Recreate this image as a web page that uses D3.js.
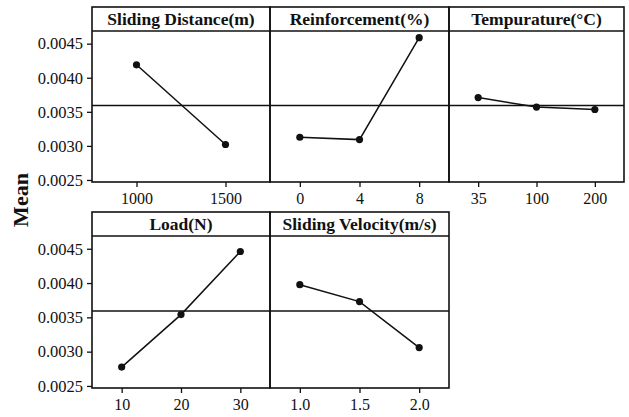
<!DOCTYPE html>
<html><head><meta charset="utf-8">
<script src="https://cdn.jsdelivr.net/npm/d3@7"></script>
<style>body{margin:0;background:#fff}svg{display:block}
svg text{font-family:'Liberation Serif','Times New Roman',serif;}</style>
</head><body>
<svg id="chart" width="629" height="417"></svg>
<script>
const factors = ["Sliding Distance(m)", "Reinforcement(%)", "Tempurature(°C)", "Load(N)", "Sliding Velocity(m/s)"];
const levels = [["1000","1500"],["0","4","8"],["35","100","200"],["10","20","30"],["1.0","1.5","2.0"]];
const means = [
  [0.00419, 0.00302],
  [0.003127, 0.003092, 0.004588],
  [0.003709, 0.003569, 0.003534],
  [0.002775, 0.00354, 0.00446],
  [0.003976, 0.00373, 0.003059]
];
const yTicks = [0.0025, 0.0030, 0.0035, 0.0040, 0.0045];
const grandMean = 0.003593;
const yLabel = "Mean";

const svg = d3.select("#chart");
const colX = [[92,270],[270,449],[449,624]];
const rowY = [{top:7, strip:31, bottom:182},{top:212, strip:236, bottom:388}];
const serif = "Liberation Serif, Times New Roman, serif";
const ink = "#111";

factors.forEach((f, i) => {
  const row = Math.floor(i/3), col = i%3;
  const [x0,x1] = colX[col];
  const r = rowY[row];
  const g = svg.append("g");
  const x = d3.scalePoint().domain(levels[i]).range([x0,x1]).padding(0.5);
  const y = d3.scaleLinear().domain([0.00247, 0.004686]).range([r.bottom, r.strip]);

  // reference line
  g.append("line").attr("x1",x0).attr("x2",x1)
    .attr("y1",y(grandMean)).attr("y2",y(grandMean))
    .attr("stroke",ink).attr("stroke-width",1.4);

  // panel box
  g.append("rect").attr("x",x0).attr("y",r.top).attr("width",x1-x0).attr("height",r.bottom-r.top)
    .attr("fill","none").attr("stroke",ink).attr("stroke-width",1.6);
  g.append("line").attr("x1",x0).attr("x2",x1).attr("y1",r.strip).attr("y2",r.strip)
    .attr("stroke",ink).attr("stroke-width",1.4);
  g.append("text").attr("x",(x0+x1)/2).attr("y",(r.top+r.strip)/2+6)
    .attr("text-anchor","middle").attr("font-family",serif).attr("font-weight","bold")
    .attr("font-size",17.5).attr("fill",ink).text(f);

  // line & points
  const pts = levels[i].map((l,j)=>[x(l), y(means[i][j])]);
  g.append("path").attr("d", d3.line()(pts)).attr("fill","none").attr("stroke",ink).attr("stroke-width",1.5);
  g.selectAll("circle.pt").data(pts).join("circle").attr("class","pt")
    .attr("cx",d=>d[0]).attr("cy",d=>d[1]).attr("r",3.6).attr("fill",ink);

  // x axis
  const xa = g.append("g").attr("transform",`translate(0,${r.bottom})`)
    .call(d3.axisBottom(x).tickSize(5).tickPadding(6));
  xa.attr("font-family",serif).attr("font-size",16);
  xa.select(".domain").remove();
  xa.selectAll("line").attr("stroke",ink).attr("stroke-width",1.3);
  xa.selectAll("text").attr("fill",ink);

  // y axis
  if (col === 0) {
    const ya = g.append("g").attr("transform",`translate(${x0},0)`)
      .call(d3.axisLeft(y).tickValues(yTicks).tickFormat(d3.format(".4f")).tickSize(5).tickPadding(4));
    ya.attr("font-family",serif).attr("font-size",16.5);
    ya.select(".domain").remove();
    ya.selectAll("line").attr("stroke",ink).attr("stroke-width",1.3);
    ya.selectAll("text").attr("fill",ink);
  }
});

svg.append("text").attr("transform","translate(28,200) rotate(-90)")
  .attr("text-anchor","middle").attr("font-family",serif).attr("font-weight","bold")
  .attr("font-size",22).attr("fill",ink).text(yLabel);
</script>
</body></html>
